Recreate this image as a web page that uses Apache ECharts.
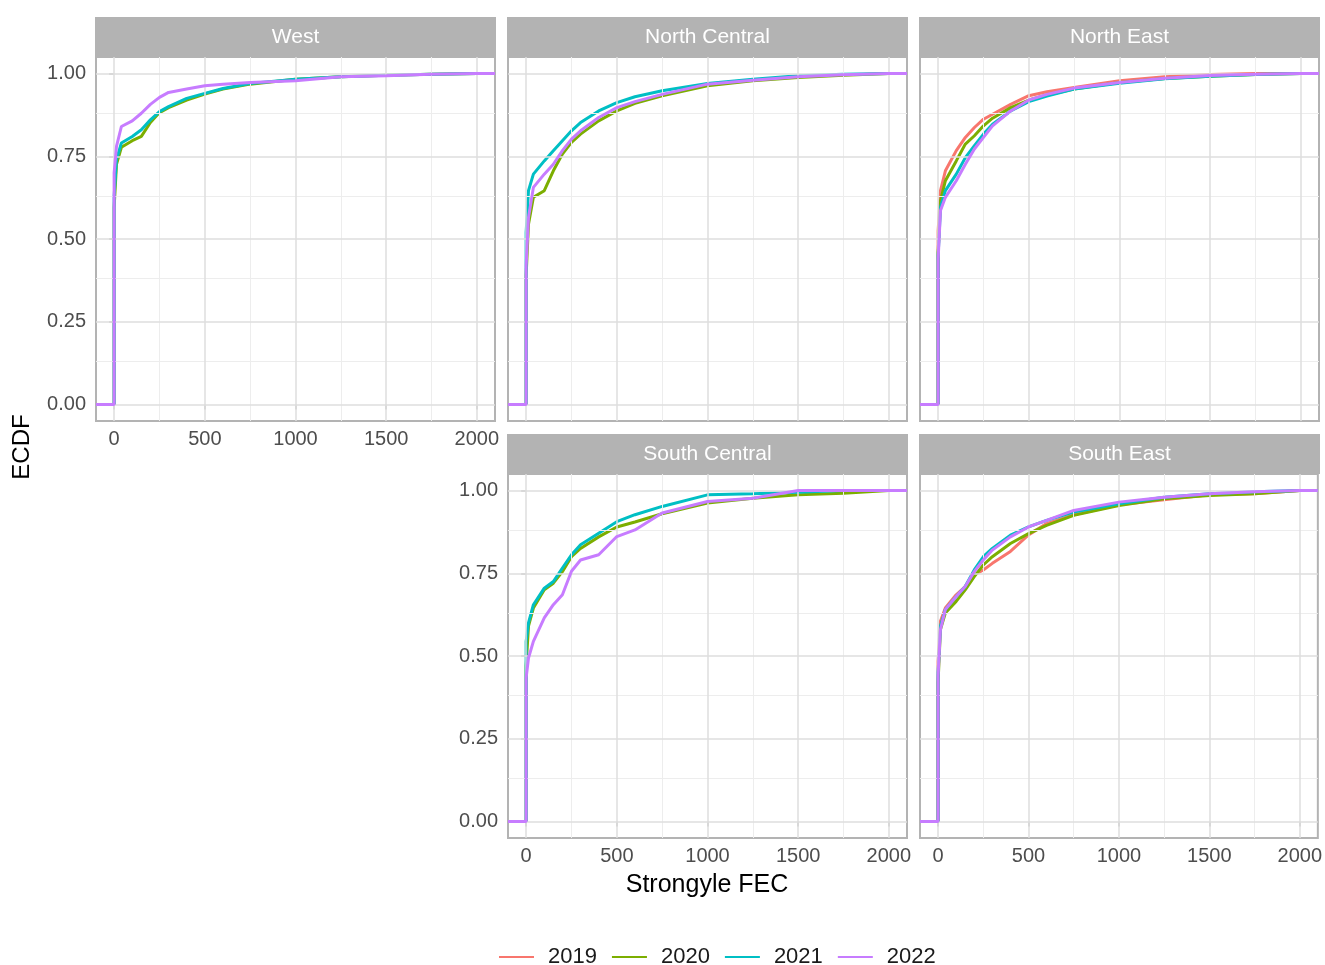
<!DOCTYPE html>
<html>
<head>
<meta charset="utf-8">
<script src="https://cdn.jsdelivr.net/npm/echarts@6/dist/echarts.min.js"></script>
<style>
html, body { margin: 0; padding: 0; background: #fff; }
#main { width: 1325px; height: 965px; }
</style>
</head>
<body>
<div id="main"></div>
<script>
var years = ['2019', '2020', '2021', '2022'];
var yearColors = ['#F8766D', '#7CAE00', '#00BFC4', '#C77CFF'];
var regions = ['West', 'North Central', 'North East', 'South Central', 'South East'];

var fecBreaks = [0, 13, 40, 100, 150, 200, 250, 300, 400, 500, 600, 750, 1000, 1250, 1500, 1750, 2000];

var xTicks = [0, 500, 1000, 1500, 2000];
var xMinor = [250, 750, 1250, 1750];
var yTicks = [0, 0.25, 0.5, 0.75, 1];
var yMinor = [0.125, 0.375, 0.625, 0.875];

// ECDF per region / year (no 2019 samples in West, North Central, South Central)
var west2020 = [0.595, 0.726, 0.777, 0.797, 0.81, 0.852, 0.882, 0.897, 0.92, 0.938, 0.953, 0.968, 0.983, 0.99, 0.995, 0.998, 1];
var west2021 = [0.63, 0.74, 0.79, 0.81, 0.83, 0.86, 0.885, 0.9, 0.925, 0.94, 0.955, 0.97, 0.983, 0.99, 0.995, 0.998, 1];
var west2022 = [0.7, 0.78, 0.84, 0.857, 0.88, 0.907, 0.928, 0.943, 0.953, 0.963, 0.968, 0.973, 0.978, 0.99, 0.993, 0.998, 1];

var northCentral2020 = [0.39, 0.545, 0.626, 0.646, 0.706, 0.757, 0.792, 0.817, 0.857, 0.887, 0.91, 0.933, 0.963, 0.978, 0.988, 0.995, 1];
var northCentral2021 = [0.52, 0.646, 0.696, 0.736, 0.767, 0.797, 0.827, 0.852, 0.887, 0.912, 0.93, 0.948, 0.97, 0.983, 0.993, 0.998, 1];
var northCentral2022 = [0.42, 0.565, 0.656, 0.696, 0.726, 0.767, 0.802, 0.827, 0.867, 0.897, 0.915, 0.937, 0.968, 0.98, 0.99, 0.996, 1];

var northEast2019 = [0.525, 0.646, 0.706, 0.767, 0.807, 0.837, 0.862, 0.877, 0.907, 0.933, 0.945, 0.958, 0.978, 0.99, 0.997, 1, 1];
var northEast2020 = [0.46, 0.616, 0.676, 0.736, 0.787, 0.812, 0.842, 0.865, 0.897, 0.92, 0.935, 0.953, 0.973, 0.985, 0.992, 0.997, 1];
var northEast2021 = [0.45, 0.596, 0.646, 0.696, 0.746, 0.782, 0.817, 0.847, 0.887, 0.915, 0.932, 0.953, 0.971, 0.984, 0.992, 0.997, 1];
var northEast2022 = [0.44, 0.586, 0.626, 0.676, 0.726, 0.772, 0.807, 0.842, 0.887, 0.92, 0.937, 0.956, 0.973, 0.986, 0.994, 0.998, 1];

var southCentral2020 = [0.47, 0.59, 0.645, 0.7, 0.72, 0.755, 0.8, 0.825, 0.86, 0.89, 0.905, 0.93, 0.962, 0.977, 0.987, 0.992, 1];
var southCentral2021 = [0.544, 0.6, 0.655, 0.705, 0.725, 0.766, 0.806, 0.836, 0.871, 0.906, 0.927, 0.952, 0.987, 0.99, 0.995, 1, 1];
var southCentral2022 = [0.434, 0.494, 0.544, 0.615, 0.655, 0.685, 0.756, 0.79, 0.806, 0.861, 0.881, 0.932, 0.967, 0.977, 1, 1, 1];

var southEast2019 = [0.484, 0.605, 0.645, 0.685, 0.71, 0.745, 0.76, 0.78, 0.816, 0.866, 0.9, 0.927, 0.957, 0.972, 0.987, 0.99, 1];
var southEast2020 = [0.42, 0.58, 0.63, 0.665, 0.7, 0.74, 0.775, 0.8, 0.84, 0.87, 0.895, 0.925, 0.955, 0.975, 0.985, 0.99, 1];
var southEast2021 = [0.45, 0.59, 0.64, 0.68, 0.71, 0.76, 0.8, 0.825, 0.865, 0.89, 0.91, 0.935, 0.96, 0.98, 0.99, 0.996, 1];
var southEast2022 = [0.44, 0.58, 0.64, 0.68, 0.71, 0.755, 0.79, 0.82, 0.86, 0.89, 0.91, 0.94, 0.965, 0.98, 0.99, 0.996, 1];

var regionData = [
    [null, west2020, west2021, west2022],
    [null, northCentral2020, northCentral2021, northCentral2022],
    [northEast2019, northEast2020, northEast2021, northEast2022],
    [null, southCentral2020, southCentral2021, southCentral2022],
    [southEast2019, southEast2020, southEast2021, southEast2022]
];

var xMin = -100, xMax = 2100;
var yMin = -0.05, yMax = 1.05;

// facet layout: [column, row]
var facetPos = [[0, 0], [1, 0], [2, 0], [1, 1], [2, 1]];
var colLeft = [96, 508, 920];
var rowTop = [57, 474];
var panelW = 399, panelH = 364, stripH = 40;

var font = 'Liberation Sans, Arial, sans-serif';

var myChart = echarts.init(document.getElementById('main'));

var grids = [], xAxes = [], yAxes = [], series = [], graphics = [];

regions.forEach(function (name, i) {
    var col = facetPos[i][0], row = facetPos[i][1];
    var left = colLeft[col], top = rowTop[row];
    var showX = (i === 0 || row === 1);
    var showY = (i === 0 || i === 3);

    grids.push({
        left: left, top: top, width: panelW, height: panelH,
        show: true, backgroundColor: '#fff',
        borderColor: '#b3b3b3', borderWidth: 2
    });

    xAxes.push({
        type: 'value', gridIndex: i, min: xMin, max: xMax,
        axisLine: { show: false },
        splitLine: { show: false },
        axisTick: { show: showX, customValues: xTicks, length: 5, lineStyle: { color: '#b3b3b3', width: 1.5 } },
        axisLabel: {
            show: showX, customValues: xTicks, color: '#4d4d4d', fontSize: 20, fontFamily: font, margin: 8,
            formatter: function (v) { return String(v); }
        }
    });

    yAxes.push({
        type: 'value', gridIndex: i, min: yMin, max: yMax,
        axisLine: { show: false },
        splitLine: { show: false },
        axisTick: { show: showY, customValues: yTicks, length: 5, lineStyle: { color: '#b3b3b3', width: 1.5 } },
        axisLabel: {
            show: showY, customValues: yTicks, color: '#4d4d4d', fontSize: 20, fontFamily: font, margin: 10,
            formatter: function (v) { return v.toFixed(2); }
        }
    });

    // grid lines drawn through the panel's own axes
    var lines = [];
    xMinor.forEach(function (v) { lines.push({ xAxis: v, lineStyle: { color: '#ededed', width: 1, type: 'solid' } }); });
    yMinor.forEach(function (v) { lines.push({ yAxis: v, lineStyle: { color: '#ededed', width: 1, type: 'solid' } }); });
    xTicks.forEach(function (v) { lines.push({ xAxis: v, lineStyle: { color: '#dedede', width: 1.5, type: 'solid' } }); });
    yTicks.forEach(function (v) { lines.push({ yAxis: v, lineStyle: { color: '#dedede', width: 1.5, type: 'solid' } }); });
    series.push({
        type: 'line', xAxisIndex: i, yAxisIndex: i, data: [], z: 1, silent: true,
        markLine: { silent: true, symbol: 'none', label: { show: false }, lineStyle: { type: 'solid' }, data: lines }
    });

    regionData[i].forEach(function (vals, k) {
        if (!vals) return;
        var pts = [[xMin, 0], [0, 0]];
        fecBreaks.forEach(function (x, j) { pts.push([x, vals[j]]); });
        pts.push([xMax, 1]);
        series.push({
            name: years[k], type: 'line', xAxisIndex: i, yAxisIndex: i,
            data: pts, symbol: 'none', z: 2 + k,
            lineStyle: { color: yearColors[k], width: 3 },
            itemStyle: { color: yearColors[k] }
        });
    });

    // facet strip
    graphics.push({
        type: 'rect', left: left - 1, top: top - stripH, z: 10,
        shape: { width: panelW + 2, height: stripH },
        style: { fill: '#b3b3b3' }
    });
    graphics.push({
        type: 'text', x: left + panelW / 2, y: top - stripH / 2, z: 11,
        style: { text: name, fill: '#fff', font: '21px ' + font, textAlign: 'center', textVerticalAlign: 'middle' }
    });
});

graphics.push({
    type: 'text', x: 22, y: 447, rotation: Math.PI / 2,
    style: { text: 'ECDF', fill: '#000', font: '24px ' + font, textAlign: 'center', textVerticalAlign: 'middle' }
});
graphics.push({
    type: 'text', x: 707, y: 885,
    style: { text: 'Strongyle FEC', fill: '#000', font: '25px ' + font, textAlign: 'center', textVerticalAlign: 'middle' }
});

var option = {
    backgroundColor: '#fff',
    animation: false,
    grid: grids,
    xAxis: xAxes,
    yAxis: yAxes,
    series: series,
    graphic: graphics,
    legend: {
        data: years,
        left: 499, top: 946, padding: 0,
        itemWidth: 35, itemHeight: 12, itemGap: 15,
        icon: 'path://M0,5 L35,5 L35,7 L0,7 Z',
        textStyle: { color: '#1a1a1a', fontSize: 22, fontFamily: font, padding: [0, 0, 0, 9] }
    }
};

myChart.setOption(option);
</script>
</body>
</html>
